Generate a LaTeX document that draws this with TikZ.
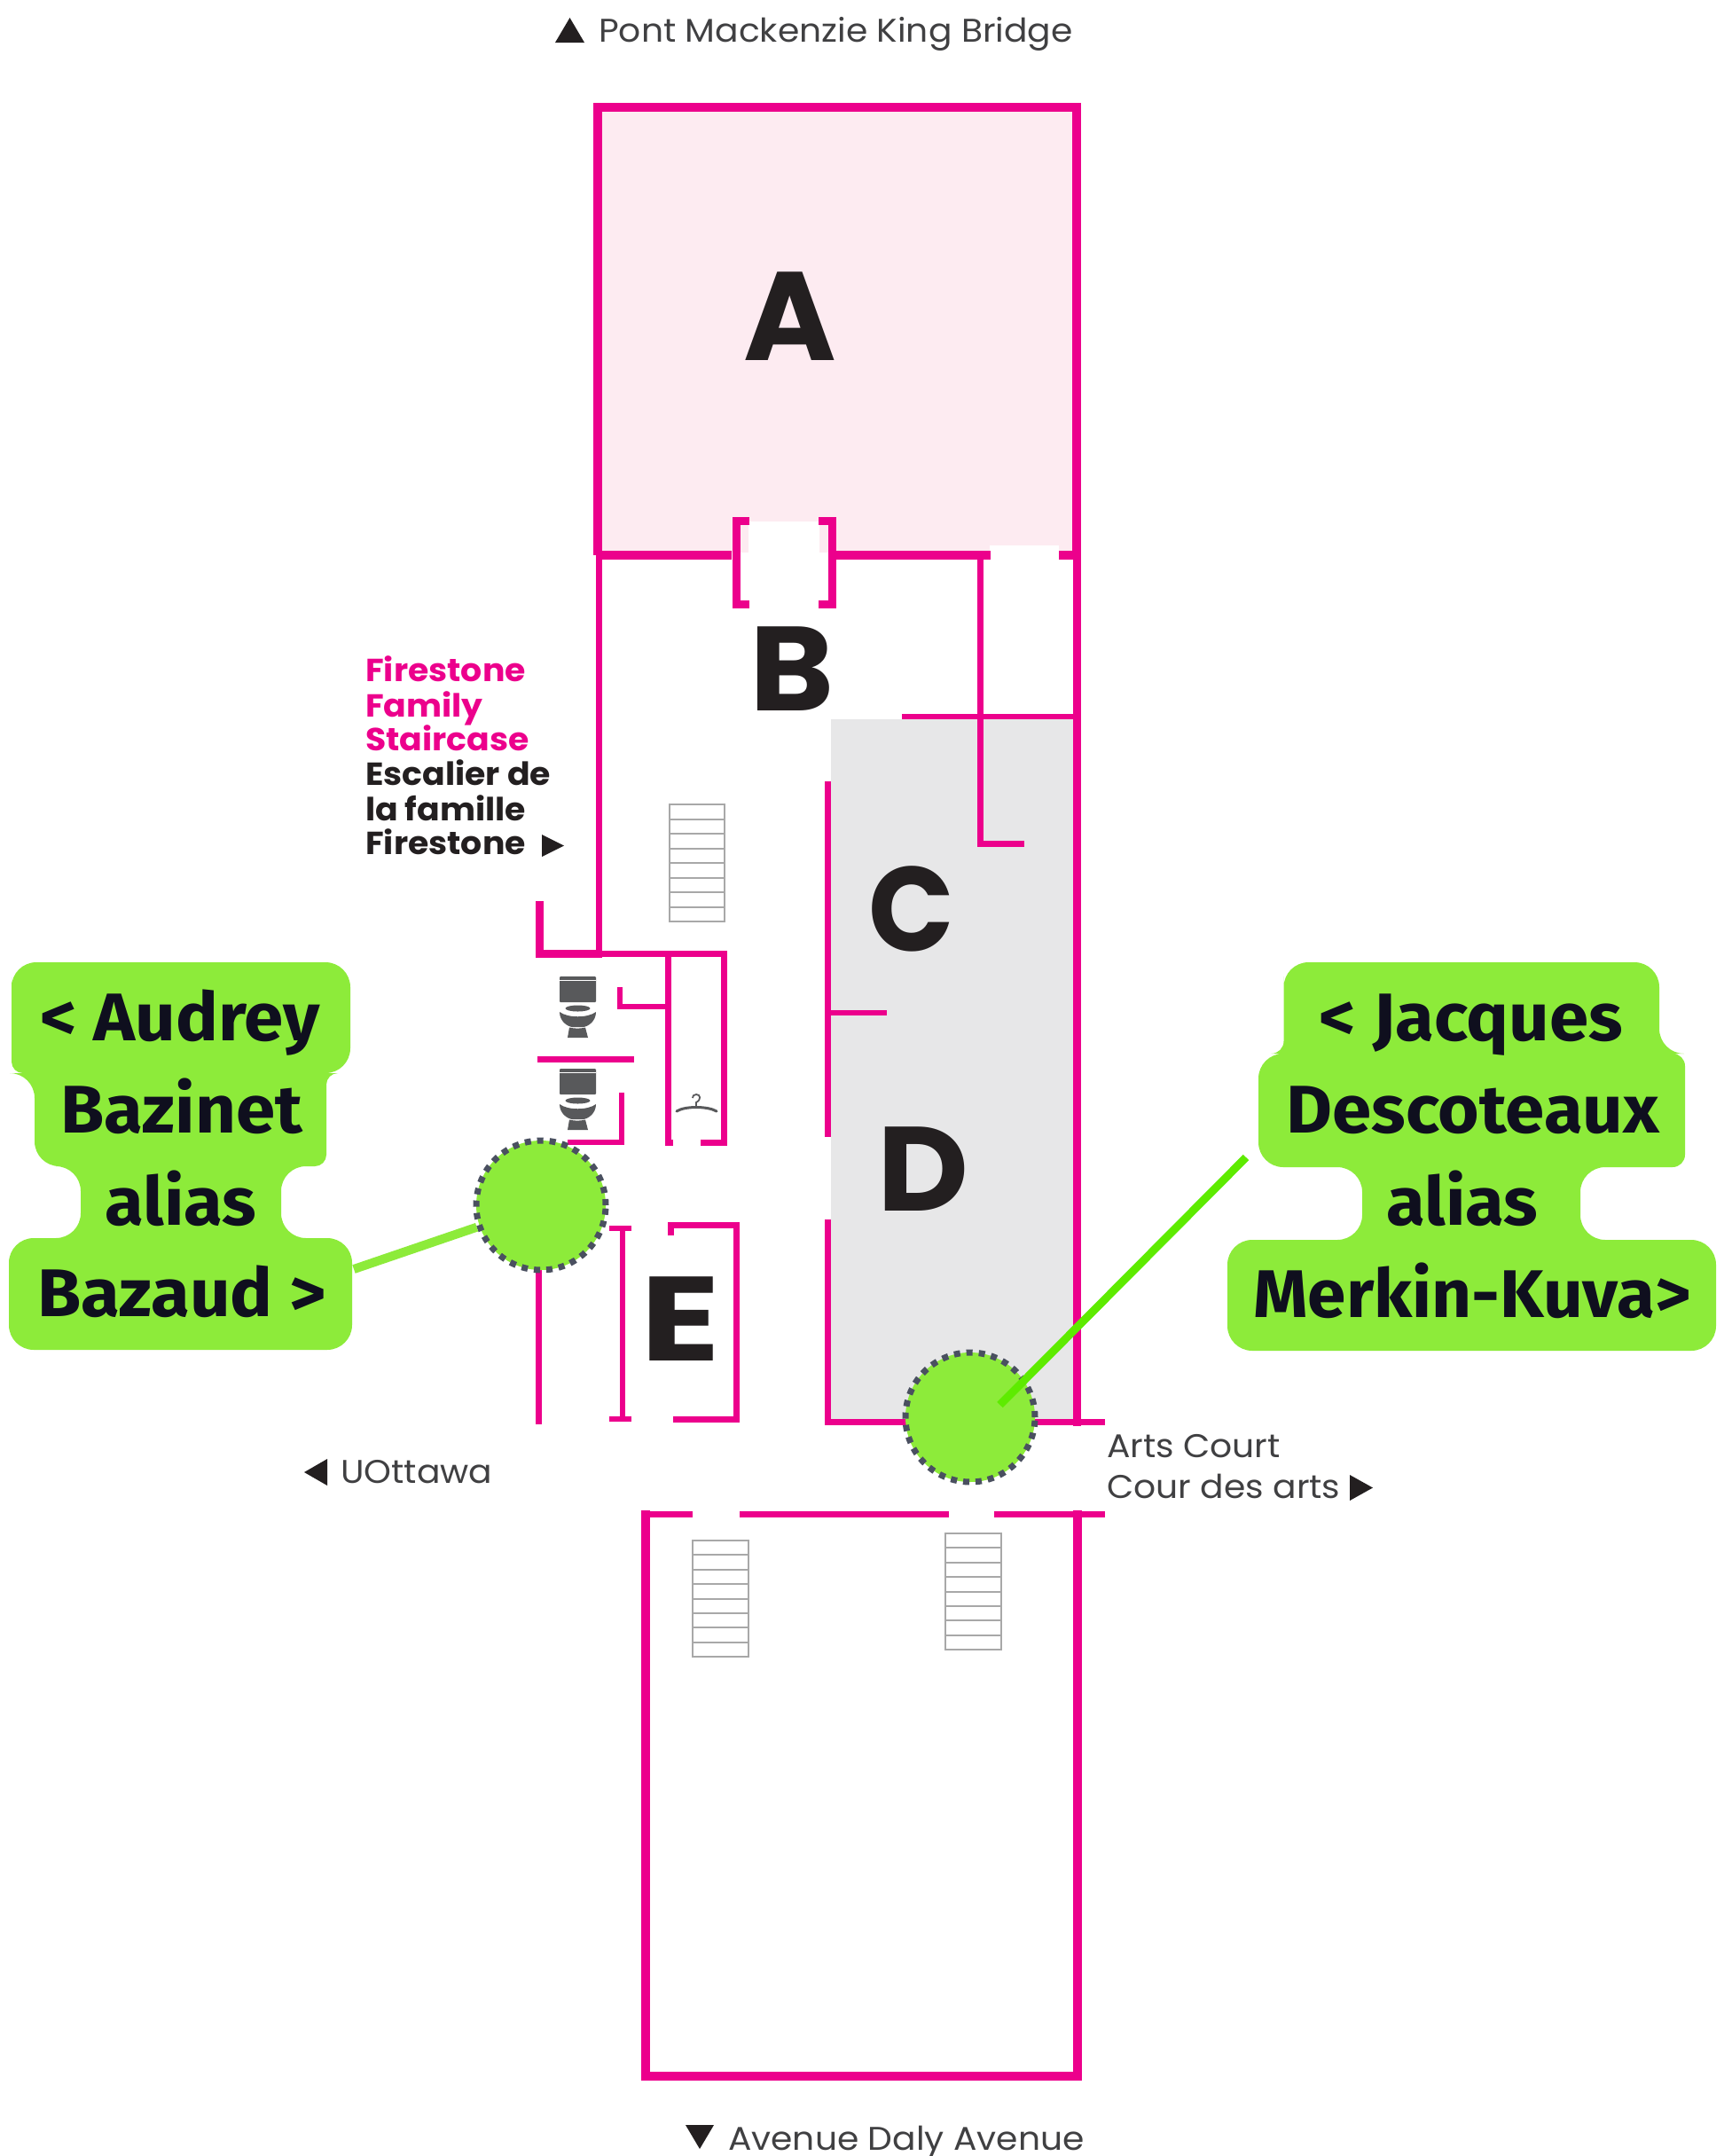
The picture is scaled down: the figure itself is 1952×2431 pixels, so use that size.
\documentclass[tikz,border=0pt]{standalone}
\usepackage{fontspec}
\newfontfamily\gm{Poppins}
\newfontfamily\gmt{Poppins}[FakeStretch=1.06]
\newfontfamily\gmb{Poppins}[FakeStretch=1.05]
\newfontfamily\lbf{Fira Sans}[FakeStretch=1.05]
\definecolor{wallc}{HTML}{EC008C}
\definecolor{pinkf}{HTML}{FDEBF1}
\definecolor{greyf}{HTML}{E7E7E8}
\definecolor{limef}{HTML}{8DEB3A}
\definecolor{limeb}{HTML}{5EEB00}
\definecolor{dotc}{HTML}{4A5060}
\definecolor{inkc}{HTML}{231F20}
\definecolor{txtc}{HTML}{404042}
\definecolor{labc}{HTML}{0F0F1E}
\definecolor{stairc}{HTML}{A8A8A8}
\definecolor{wcc}{HTML}{58595B}
\tikzset{
  x=1pt,y=-1pt,
  wall/.style={draw=wallc,line width=7pt,line cap=butt,line join=miter},
  wallh/.style={draw=wallc,line width=10pt,line cap=butt,line join=miter},
  letter/.style={anchor=base,inner sep=0pt,text=inkc,font=\gm\bfseries\fontsize{135}{135}\selectfont},
  small/.style={anchor=base west,inner sep=0pt,text=txtc,font=\gmt\fontsize{37}{39}\selectfont},
  fire/.style={anchor=base west,inner sep=0pt,font=\gmb\bfseries\fontsize{36}{39}\selectfont},
  lab/.style={anchor=base,inner sep=0pt,text=labc,font=\lbf\bfseries\fontsize{76}{80}\selectfont},
  blob/.style={fill=limef,draw=none},
  spot/.style={circle,fill=limef,draw=dotc,line width=7pt,dash pattern=on 7pt off 7pt,minimum size=146pt,inner sep=0pt},
  tri/.style={fill=inkc,draw=none},
  stairb/.style={draw=stairc,line width=2pt},
  toilet/.pic={
    \fill[wcc,rounded corners=1pt] (51,51) rectangle (92,80);
    \fill[white] (51,54.5) rectangle (92,56);
    \fill[wcc] (51,91) .. controls (60,98) and (83,98) .. (92,91) .. controls (92,101) and (84,107) .. (78,108) -- (65,108) .. controls (59,107) and (51,101) .. (51,91) -- cycle;
    \fill[wcc] (71.5,87) ellipse (14pt and 3.5pt);
    \fill[wcc] (62,108.5) .. controls (68,110) and (74,110) .. (80,108.5) -- (83,120) -- (60,120) -- cycle;
  }
}
\begin{document}
\begin{tikzpicture}
\useasboundingbox (0,0) rectangle (1952,2431);
\fill[white] (0,0) rectangle (1952,2431);
% fills
\fill[pinkf] (674,121) rectangle (1214,623);
\fill[white] (844,588) rectangle (924,630);
\fill[white] (1116,615) rectangle (1194,630);
\fill[greyf] (937,811) rectangle (1211,1604);
% walls
\draw[wallh] (669,121) -- (1214,121) -- (1214,630);
\draw[wallh] (674,116) -- (674,626);
\draw[wallh] (674,626) -- (825,626);
\draw[wallh] (942,626) -- (1117,626);
\draw[wallh] (1194,626) -- (1214,626);
\draw[wall,line width=9pt] (845,587) -- (830,587) -- (830,681) -- (845,681);
\draw[wall,line width=9pt] (923,587) -- (938,587) -- (938,681) -- (923,681);
\draw[wall] (675,626) -- (675,1080);
\draw[wall,line width=9pt] (1214,626) -- (1214,1608);
\draw[wall] (1105,626) -- (1105,951) -- (1155,951);
\draw[wall,line width=6pt] (1017,808) -- (1214,808);
\draw[wall] (933,881) -- (933,1282);
\draw[wall] (933,1375) -- (933,1603) -- (1030,1603);
\draw[wall,line width=6pt] (933,1142) -- (1000,1142);
\draw[wall] (1160,1603) -- (1246,1603);
% washroom block
\draw[wall,line width=9pt] (608,1016) -- (608,1075) -- (679,1075);
\draw[wall] (679,1075) -- (816,1075) -- (816,1288) -- (790,1288);
\draw[wall] (753,1075) -- (753,1288) -- (759,1288);
\draw[wall,line width=6pt] (699,1113) -- (699,1135) -- (753,1135);
\draw[wall] (606,1194) -- (715,1194);
\draw[wall,line width=6.5pt] (640,1288) -- (701,1288) -- (701,1232);
% E room
\draw[wall] (607,1400) -- (607,1606);
\draw[wall,line width=6pt] (687,1385) -- (712,1385);
\draw[wall,line width=6pt] (702,1385) -- (702,1600);
\draw[wall,line width=6pt] (687,1600) -- (712,1600);
\draw[wall] (756,1393) -- (756,1381) -- (830,1381) -- (830,1600) -- (759,1600);
% lower building
\draw[wall] (723,1707) -- (781,1707);
\draw[wall] (834,1707) -- (1070,1707);
\draw[wall] (1121,1707) -- (1246,1707);
\draw[wallh] (728,1703) -- (728,2341) -- (1215,2341) -- (1215,1703);
% stairs
\foreach \sx/\sy/\sw/\sh in {755/907/62/132,781/1737/63/131,1066/1729/63/131}{
  \draw[stairb] (\sx,\sy) rectangle ({\sx+\sw},{\sy+\sh});
  \foreach \k in {1,...,7}{
    \draw[stairb] (\sx,{\sy+\k*\sh/8}) -- ({\sx+\sw},{\sy+\k*\sh/8});
  }
}
% toilets and hanger
\pic at (580,1050) {toilet};
\pic at (580,1154) {toilet};
\draw[wcc,line width=3pt,line cap=round] (763,1253) .. controls (772,1247) and (798,1247) .. (808,1253);
\draw[wcc,line width=1.8pt] (785,1248) -- (785,1243) .. controls (791,1240) and (790,1234) .. (785,1234) .. controls (782,1234) and (781,1236) .. (781,1238);
% letters
\node[letter,font=\gm\bfseries\fontsize{142}{142}\selectfont] (lA) at (891,406) {A};
\node[letter] (lB) at (893,801) {\scalebox{1.07}[1]{B}};
\node[letter] (lC) at (1028,1072) {\scalebox{0.94}[1]{C}};
\node[letter] (lD) at (1041,1365) {\scalebox{1.05}[1]{D}};
\node[letter] (lE) at (767,1534) {\scalebox{1.23}[1]{E}};
% small texts
\fill[tri] (626,48) -- (659,48) -- (642.5,20) -- cycle;
\node[small] (tn) at (675,47) {Pont Mackenzie King Bridge};
\fill[tri] (773,2396) -- (805,2396) -- (789,2423) -- cycle;
\node[small] (ts) at (821,2424) {Avenue Daly Avenue};
\fill[tri] (369,1645) -- (369,1675) -- (343,1660) -- cycle;
\node[small] (tw) at (384,1672) {UOttawa};
\node[small] (te1) at (1248,1643) {Arts Court};
\node[small] (te2) at (1248,1689) {Cour des arts};
\fill[tri] (1522,1663) -- (1522,1692) -- (1548,1677.5) -- cycle;
\node[fire,text=wallc] (f1) at (412,768) {Firestone};
\node[fire,text=wallc] (f2) at (412,808) {Family};
\node[fire,text=wallc] (f3) at (412,846) {Staircase};
\node[fire,text=inkc] (f4) at (412,885) {Escalier de};
\node[fire,text=inkc] (f5) at (412,925) {la famille};
\node[fire,text=inkc] (f6) at (412,963) {Firestone};
\fill[tri] (611,941) -- (611,966) -- (636,953.5) -- cycle;
% label blobs
\path[blob] (13,1115) [rounded corners=28pt] -- (13,1085) -- (395,1085) -- (395,1210) [rounded corners=13pt] -- (368,1210) -- (368,1315) [rounded corners=28pt] -- (317,1315) -- (317,1396) -- (397,1396) -- (397,1522) -- (10,1522) -- (10,1396) -- (91,1396) -- (91,1315) -- (39,1315) -- (39,1210) [rounded corners=13pt] -- (13,1210) -- (13,1115) -- cycle;
\path[blob] (1447.5,1115) [rounded corners=28pt] -- (1447.5,1085) -- (1871,1085) -- (1871,1188) [rounded corners=14pt] -- (1900,1188) -- (1900,1316) [rounded corners=28pt] -- (1782,1316) -- (1782,1398) -- (1935,1398) -- (1935,1523) -- (1384,1523) -- (1384,1398) -- (1536,1398) -- (1536,1316) -- (1419,1316) -- (1419,1188) [rounded corners=14pt] -- (1447.5,1188) -- (1447.5,1115) -- cycle;
\node[lab] (a1) at (203,1173) {< Audrey};
\node[lab] (a2) at (204.5,1277) {Bazinet};
\node[lab] (a3) at (204,1381) {alias};
\node[lab] (a4) at (205,1484) {Bazaud >};
\node[lab] (j1) at (1659,1173) {< Jacques};
\node[lab] (j2) at (1661,1277) {Descoteaux};
\node[lab] (j3) at (1649,1381) {alias};
\node[lab] (j4) at (1660,1485) {\scalebox{0.98}[1]{Merkin-Kuva>}};
% spots and connectors
\coordinate (lend) at (399,1431);
\coordinate (rend) at (1405,1305);
\coordinate (rin) at (1127.5,1584);
\node[spot] (sl) at (610,1359) {};
\node[spot] (sr) at (1094,1598) {};
\draw[limef,line width=10pt] (lend) -- (sl);
\draw[limeb,line width=9pt] (rend) -- (rin);
\end{tikzpicture}
\end{document}
